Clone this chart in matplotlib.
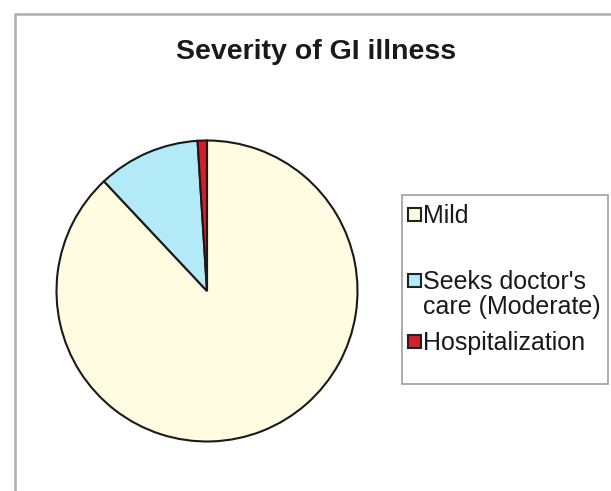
import matplotlib
matplotlib.use("Agg")
import matplotlib.pyplot as plt
from matplotlib.patches import Rectangle

# ---- data ----
categories = ["Mild", "Seeks doctor's\ncare (Moderate)", "Hospitalization"]
values = [88, 11, 1]
colors = ["#FFFCE2", "#B3EAF7", "#D0202A"]
title = "Severity of GI illness"

W, H = 611, 491
plt.rcParams['font.family'] = ['Liberation Sans', 'DejaVu Sans']
fig = plt.figure(figsize=(W / 100, H / 100), dpi=100)
fig.patch.set_facecolor("white")


def fx(x):
    return x / W


def fy(y):
    return 1 - y / H


# chart-area frame (left and top edges visible)
fig.add_artist(Rectangle((fx(15), -0.2), 1.2, fy(14) + 0.2, transform=fig.transFigure,
                         fill=False, edgecolor="#AEAEAE", linewidth=1.8))

# title
fig.text(fx(316), fy(52), title, ha="center", va="center",
         fontsize=20.5, fontweight="bold", color="#1a1a1a")

# pie
cx, cy, r = 207, 291, 152
ax = fig.add_axes([fx(cx - r), fy(cy + r), 2 * r / W, 2 * r / H])
wedges, _ = ax.pie(values, colors=colors, startangle=90, counterclock=False,
                   wedgeprops=dict(edgecolor="#1a1a1a", linewidth=1.5))
ax.set_xlim(-1.01, 1.01)
ax.set_ylim(-1.01, 1.01)
ax.set_axis_off()

# legend
fig.add_artist(Rectangle((fx(402), fy(384)), fx(608) - fx(402), fy(195) - fy(384),
                         transform=fig.transFigure, fill=False,
                         edgecolor="#A0A0A0", linewidth=1.2))
marker_y = [214, 280, 341]
fs = 18
cap = 0.716 * fs * 100 / 72
line_gap = 25
for lab, col, my in zip(categories, colors, marker_y):
    fig.add_artist(Rectangle((fx(408), fy(my + 6.5)), 13 / W, 13 / H,
                             transform=fig.transFigure, facecolor=col,
                             edgecolor="#222222", linewidth=1.5))
    for i, line in enumerate(lab.split("\n")):
        fig.text(fx(423), fy(my + cap / 2 + i * line_gap), line, ha="left",
                 va="baseline", fontsize=fs, color="#1a1a1a")

fig.savefig("out.png", dpi=100, facecolor="white")
